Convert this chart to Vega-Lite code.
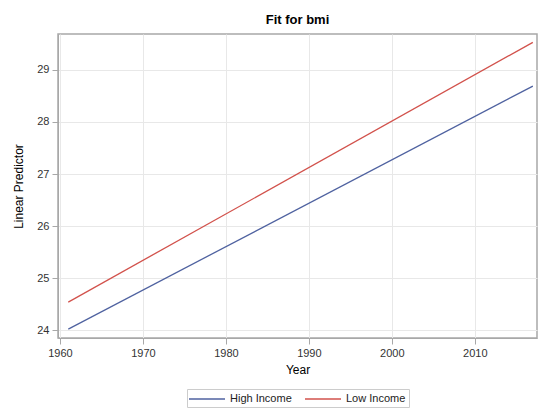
{
  "$schema": "https://vega.github.io/schema/vega-lite/v6.json",
  "autosize": "none",
  "width": 479,
  "height": 304,
  "padding": {"left": 58, "top": 34, "right": 13, "bottom": 79},
  "background": "white",
  "title": {
    "text": "Fit for bmi",
    "font": "Liberation Sans",
    "fontSize": 13,
    "fontWeight": "bold",
    "color": "#000000",
    "anchor": "middle",
    "offset": 7
  },
  "data": {
    "values": [
      {"Year": 1961, "pred": 24.02, "group": "High Income"},
      {"Year": 2017, "pred": 28.69, "group": "High Income"},
      {"Year": 1961, "pred": 24.54, "group": "Low Income"},
      {"Year": 2017, "pred": 29.53, "group": "Low Income"}
    ]
  },
  "mark": {"type": "line", "strokeWidth": 1.3, "clip": true},
  "encoding": {
    "x": {
      "field": "Year",
      "type": "quantitative",
      "scale": {"domain": [1959.76, 2017.5], "nice": false, "zero": false},
      "axis": {"values": [1960, 1970, 1980, 1990, 2000, 2010], "format": "d", "title": "Year", "titlePadding": 6}
    },
    "y": {
      "field": "pred",
      "type": "quantitative",
      "scale": {"domain": [23.85, 29.69], "nice": false, "zero": false},
      "axis": {"values": [24, 25, 26, 27, 28, 29], "title": "Linear Predictor", "titlePadding": 11}
    },
    "color": {
      "field": "group",
      "type": "nominal",
      "scale": {"domain": ["High Income", "Low Income"], "range": ["#4f62a0", "#d2524c"]},
      "legend": {
        "title": null,
        "orient": "bottom",
        "direction": "horizontal",
        "symbolType": "M-3,0H3",
        "symbolSize": 144,
        "symbolOffset": 10,
        "symbolStrokeWidth": 1.3,
        "labelFont": "Liberation Sans",
        "labelFontSize": 11,
        "labelColor": "#222222",
        "strokeColor": "#cccccc",
        "padding": 3,
        "offset": 14,
        "columnPadding": 10,
        "labelOffset": 16
      }
    }
  },
  "config": {
    "view": {"stroke": "#a8a8a8", "strokeWidth": 1.5},
    "axis": {
      "labelFont": "Liberation Sans",
      "labelFontSize": 11,
      "labelColor": "#333333",
      "titleFont": "Liberation Sans",
      "titleFontSize": 12,
      "titleFontWeight": "normal",
      "titleColor": "#000000",
      "domainColor": "#a8a8a8",
      "tickColor": "#a8a8a8",
      "tickSize": 6,
      "labelPadding": 3,
      "gridColor": "#e8e8e8",
      "gridWidth": 1
    },
    "legend": {"layout": {"anchor": "middle"}}
  }
}
